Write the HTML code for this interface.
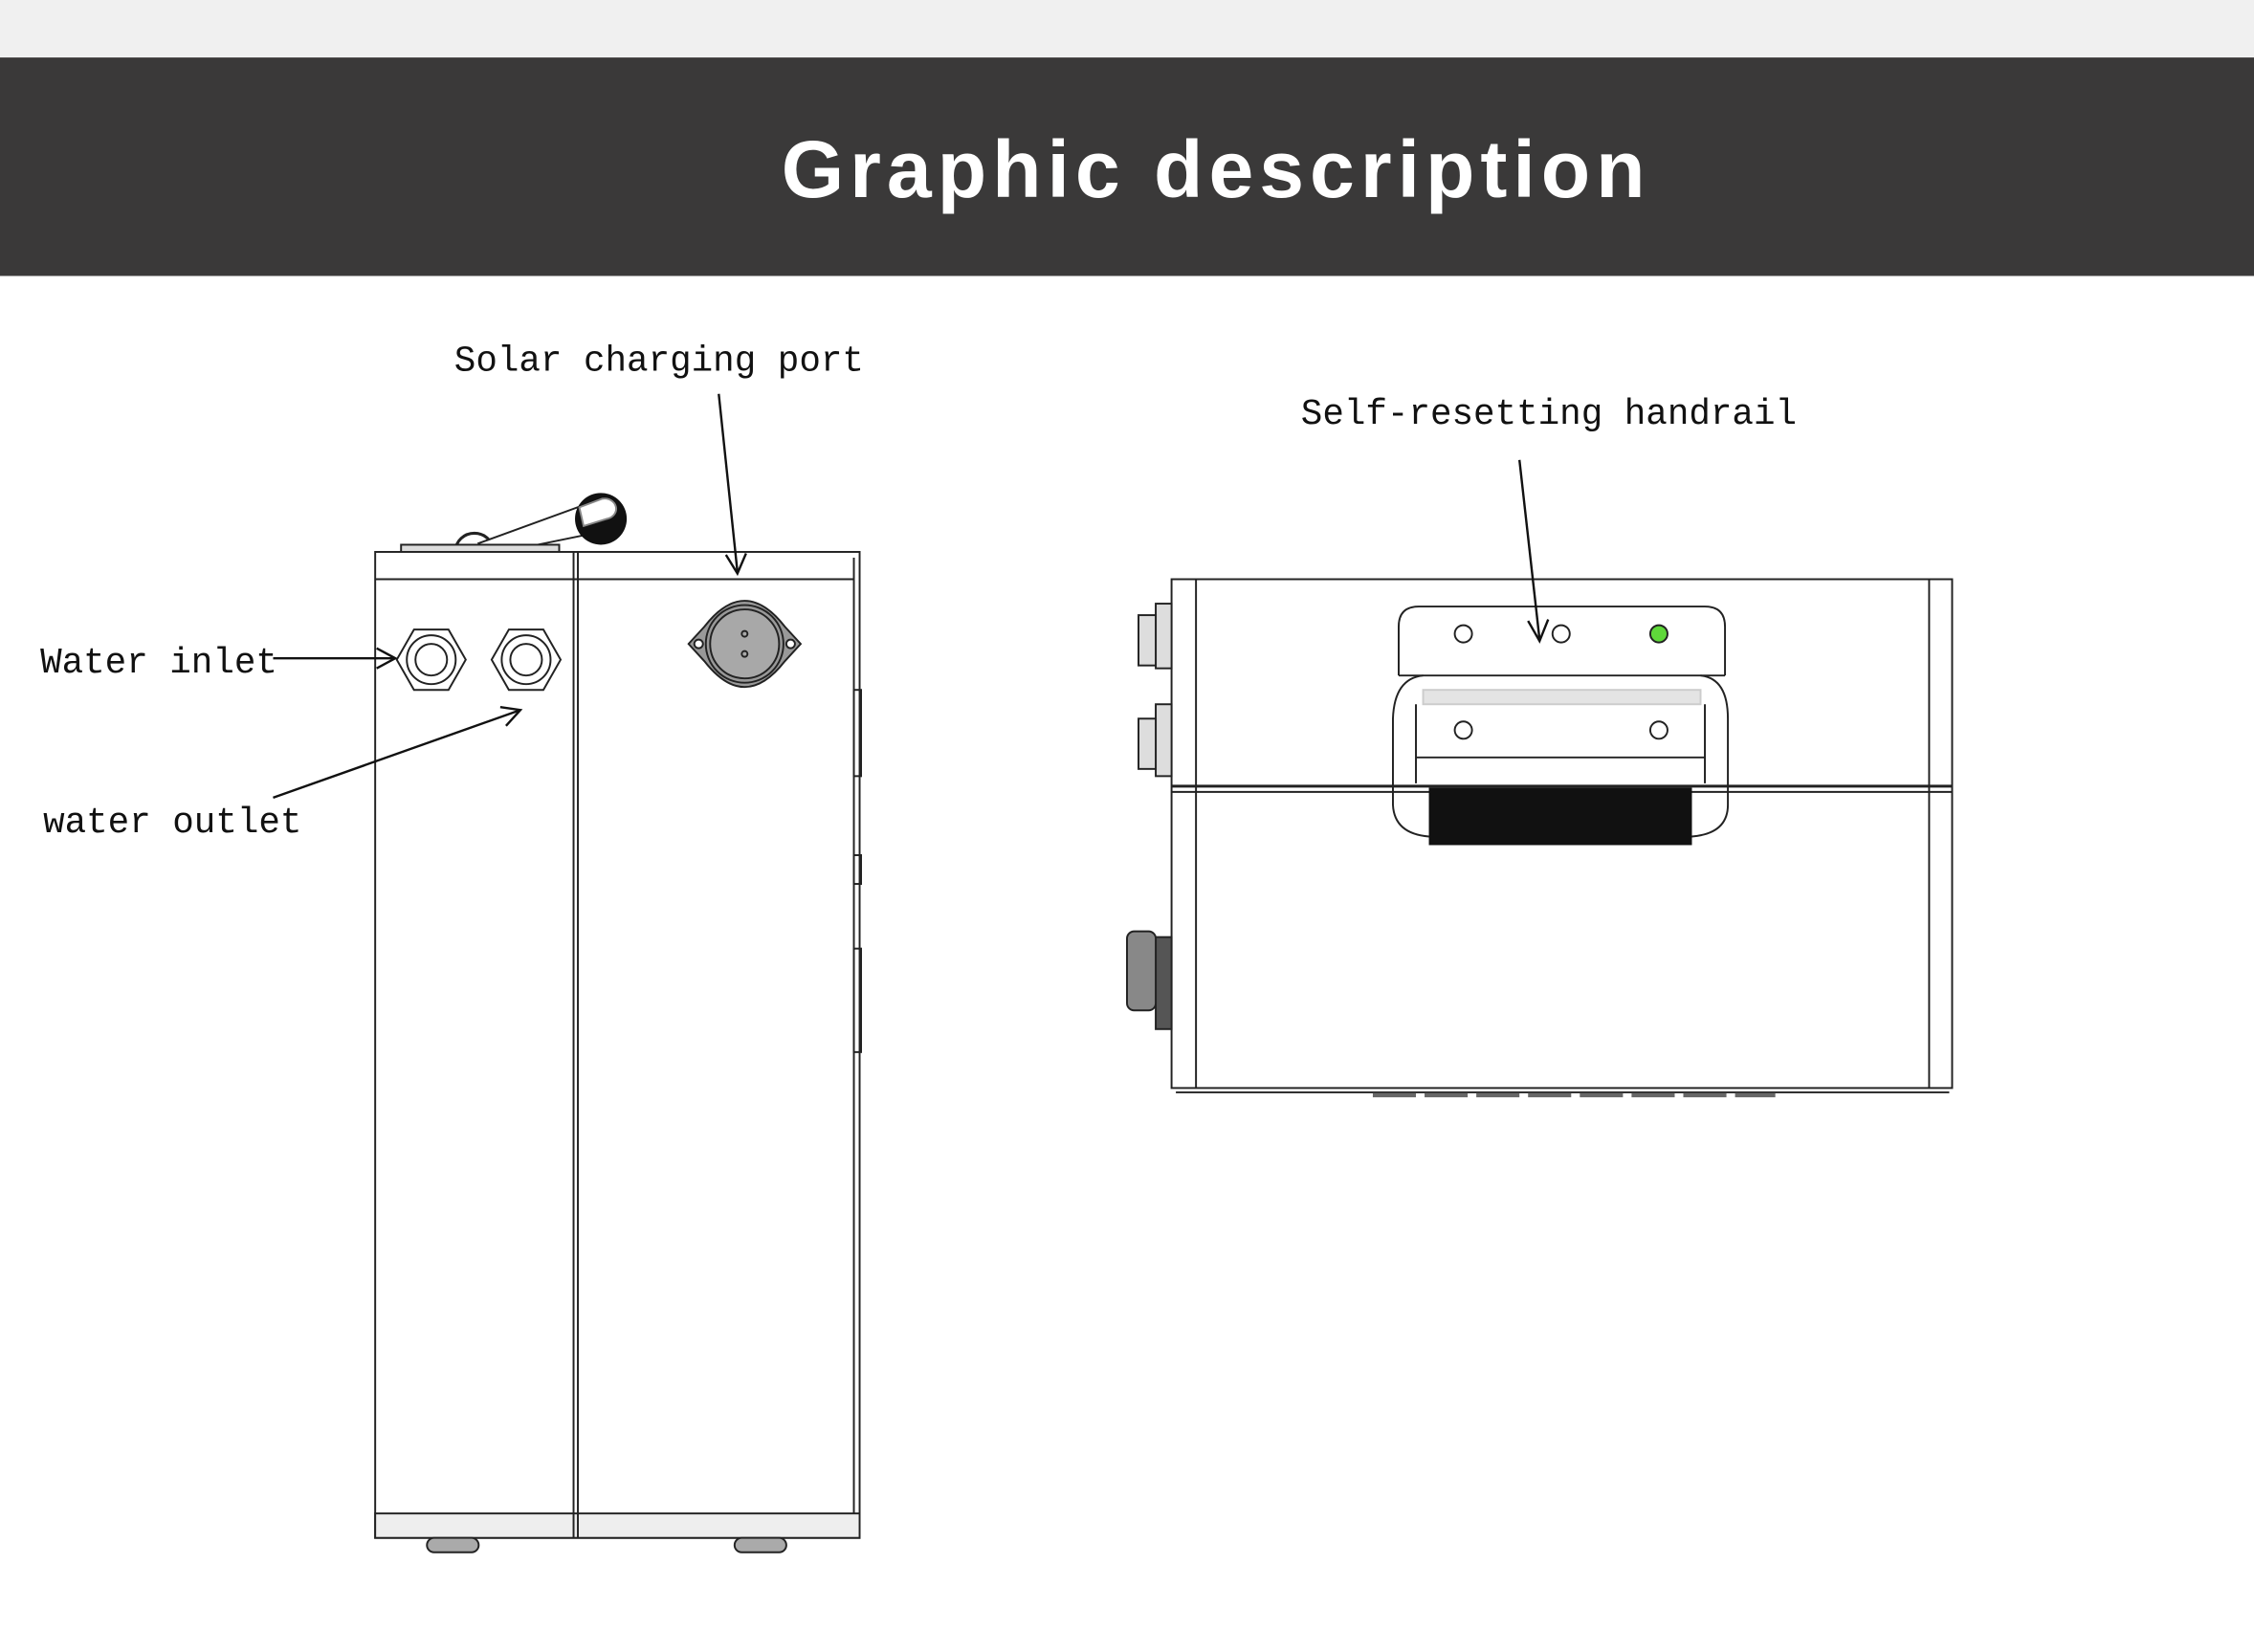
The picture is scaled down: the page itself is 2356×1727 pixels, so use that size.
<!DOCTYPE html>
<html><head><meta charset="utf-8"><style>
html,body{margin:0;padding:0;background:#fff;}
svg{display:block}
text{font-family:"Liberation Mono","DejaVu Sans Mono",monospace;fill:#111}
</style></head><body>
<svg width="2356" height="1727" viewBox="0 0 1568 1149.4" preserveAspectRatio="none" xmlns="http://www.w3.org/2000/svg">
<rect x="0" y="0" width="1568" height="40" fill="#f0f0f0"/>
<rect x="0" y="40" width="1568" height="152" fill="#3a3939"/>
<text x="846" y="137" text-anchor="middle" style="font-family:'Liberation Sans',sans-serif;font-weight:bold;font-size:56px;letter-spacing:4px;fill:#fff">Graphic description</text>

<g font-size="25">
<text x="316" y="258">Solar charging port</text>
<text x="905" y="295">Self-resetting handrail</text>
<text x="28" y="468">Water inlet</text>
<text x="30" y="579">water outlet</text>
</g>

<!-- left device -->
<g stroke="#222" stroke-width="1.3" fill="none">
<path d="M317,383 a13,12 0 0 1 26,0" stroke-width="2"/>
<polygon points="333,378 410,350 418,370 340,386" fill="#fff"/>
<circle cx="418" cy="361" r="18" fill="#111" stroke="none"/>
<path d="M403,353 l16,-6 a8,7 0 0 1 3,14 l-16,5 z" fill="#fff" stroke="#888"/>
<rect x="279" y="379" width="110" height="5" fill="#ddd"/>
<rect x="261" y="384" width="337" height="686" fill="#fff"/>
<line x1="261" y1="403" x2="594" y2="403"/>
<line x1="399" y1="384" x2="399" y2="1070"/><line x1="402" y1="384" x2="402" y2="1070"/>
<line x1="594" y1="388" x2="594" y2="1070"/>
<rect x="594" y="480" width="5" height="60"/><rect x="594" y="595" width="5" height="20"/><rect x="594" y="660" width="5" height="72"/>
<rect x="261" y="1053" width="337" height="17" fill="#eee"/>
<line x1="399" y1="1053" x2="399" y2="1070"/><line x1="402" y1="1053" x2="402" y2="1070"/>
<rect x="297" y="1070" width="36" height="10" rx="5" fill="#aaa"/>
<rect x="511" y="1070" width="36" height="10" rx="5" fill="#aaa"/>
<polygon points="288,438 312,438 324,459 312,480 288,480 276,459" fill="#fff"/>
<circle cx="300" cy="459" r="17"/><circle cx="300" cy="459" r="11"/>
<polygon points="354,438 378,438 390,459 378,480 354,480 342,459" fill="#fff"/>
<circle cx="366" cy="459" r="17"/><circle cx="366" cy="459" r="11"/>
<path d="M490,436 Q518,400 546,436 L557,448 L546,460 Q518,496 490,460 L479,448 Z" fill="#999"/>
<circle cx="518" cy="448" r="27"/><circle cx="518" cy="448" r="24" fill="#a8a8a8"/>
<circle cx="486" cy="448" r="3" fill="#fff"/><circle cx="550" cy="448" r="3" fill="#fff"/>
<circle cx="518" cy="441" r="2"/><circle cx="518" cy="455" r="2"/>
</g>

<!-- right device -->
<g stroke="#222" stroke-width="1.3" fill="none">
<rect x="815" y="403" width="543" height="354" fill="#fff"/>
<line x1="832" y1="403" x2="832" y2="757"/><line x1="1342" y1="403" x2="1342" y2="757"/>
<line x1="815" y1="547" x2="1358" y2="547" stroke-width="2"/><line x1="815" y1="551" x2="1358" y2="551"/>
<line x1="818" y1="760" x2="1356" y2="760"/>
<g fill="#ddd"><rect x="804" y="420" width="11" height="45"/><rect x="792" y="428" width="12" height="35"/>
<rect x="804" y="490" width="11" height="50"/><rect x="792" y="500" width="12" height="35"/></g>
<rect x="804" y="652" width="11" height="64" fill="#555"/><rect x="784" y="648" width="20" height="55" rx="5" fill="#888"/>
<path d="M973,470 V436 Q973,422 987,422 H1186 Q1200,422 1200,436 V470"/>
<line x1="973" y1="470" x2="1200" y2="470"/>
<path d="M990,470 Q970,472 969,500 V560 Q970,580 994,582 M1183,470 Q1202,472 1202,500 V560 Q1202,580 1177,582"/>
<path d="M985,490 V545 M1186,490 V545"/>
<rect x="990" y="480" width="193" height="10" fill="#e4e4e4" stroke="#ccc"/>
<line x1="985" y1="527" x2="1186" y2="527"/>
<rect x="994" y="548" width="183" height="40" fill="#111" stroke="none"/>
<circle cx="1018" cy="441" r="6" fill="#fff"/><circle cx="1086" cy="441" r="6" fill="#fff"/>
<circle cx="1154" cy="441" r="6" fill="#5fd83a"/>
<circle cx="1018" cy="508" r="6" fill="#fff"/><circle cx="1154" cy="508" r="6" fill="#fff"/>
<path d="M955,762 h280" stroke="#666" stroke-width="3" stroke-dasharray="30,6"/>
</g>

<!-- arrows on top -->
<g stroke="#111" stroke-width="1.6" fill="none">
<line x1="500" y1="274" x2="513" y2="398"/><polyline points="505,386 513,399 519,385"/>
<line x1="1057" y1="320" x2="1071" y2="445"/><polyline points="1063,432 1071,446 1077,431"/>
<line x1="190" y1="458" x2="275" y2="458"/><polyline points="262,451 275,458 262,465"/>
<line x1="190" y1="555" x2="362" y2="494"/><polyline points="348,492 362,494 352,505"/>
</g>
</svg>
</body></html>
